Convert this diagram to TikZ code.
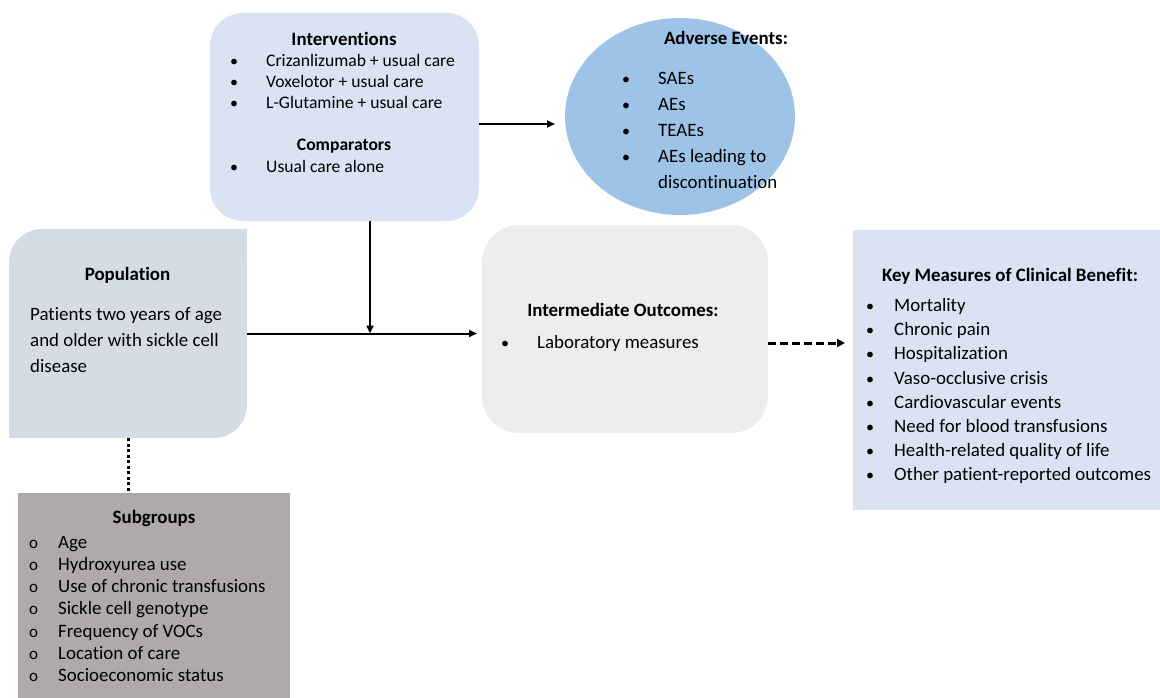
\documentclass[tikz,border=0pt]{standalone}
\usepackage{fontspec}
\setmainfont{Carlito}[Ligatures=NoCommon]
\usetikzlibrary{arrows.meta,shapes.geometric}
\definecolor{intc}{HTML}{DAE3F3}
\definecolor{aec}{HTML}{9DC3E6}
\definecolor{popc}{HTML}{D6DCE5}
\definecolor{imc}{HTML}{EDEDED}
\definecolor{keyc}{HTML}{DAE3F3}
\definecolor{subc}{HTML}{AEAAAA}
\newcommand\fsz{\fontsize{18.9}{22}\selectfont}
\newcommand\fszs{\fontsize{17.6}{21}\selectfont}
\tikzset{
  box/.style={inner sep=0pt, outer sep=0pt, draw=none},
  txt/.style={anchor=base west, inner sep=0pt, font=\fsz},
  stxt/.style={anchor=base west, inner sep=0pt, font=\fszs},
  ttl/.style={anchor=base, inner sep=0pt, font=\fsz\bfseries},
  sttl/.style={anchor=base, inner sep=0pt, font=\fszs\bfseries},
  circ/.style={anchor=base west, inner sep=0pt, font=\fontsize{17}{20}\selectfont},
  bul/.style={anchor=base west, inner sep=0pt, font=\fontsize{16}{19}\selectfont},
  conn/.style={line width=2pt, -{Triangle[length=8pt,width=7pt]}},
  dashconn/.style={line width=3pt, dash pattern=on 8pt off 4pt, -{Triangle[length=8pt,width=8pt]}},
  dotconn/.style={line width=3pt, dash pattern=on 3pt off 2.5pt}
}
\begin{document}
\begin{tikzpicture}[x=1pt,y=-1pt]
\useasboundingbox (0,0) rectangle (1160,698);
% boxes
\node[box, fill=intc, rounded corners=33pt, minimum width=269pt, minimum height=208pt] (int) at (344.5,117) {};
\node[box, fill=aec, ellipse, minimum width=230pt, minimum height=197pt] (ae) at (680,116.5) {};
\node[box, fill=popc, rounded corners=33pt, minimum width=238pt, minimum height=209pt] (pop) at (128,333.5) {};
\fill[popc] (212,229) rectangle (247,264);
\fill[popc] (9,403) rectangle (44,438);
\node[box, fill=imc, rounded corners=37pt, minimum width=286pt, minimum height=208pt] (im) at (625,329) {};
\node[box, fill=keyc, minimum width=309pt, minimum height=280pt] (key) at (1007.5,370) {};
\node[box, fill=subc, minimum width=272pt, minimum height=207pt] (sub) at (154,596.5) {};
% connectors
\coordinate (ae-in) at (555,124);
\draw[conn] (int.east |- ae-in) -- (ae-in);
\coordinate (join) at (370,333.5);
\draw[conn] (pop.east) -- ([xshift=-5pt]pop.east -| im.west);
\draw[conn] (int.south -| join) -- (join);
\coordinate (key-in) at (845,343);
\draw[dashconn] (im.east |- key-in) -- (key-in);
\draw[dotconn] (pop.south) -- (pop.south |- sub.north);
% Interventions text
\node[ttl] (t-int) at (344,46) {Interventions};
\foreach \y/\s [count=\i] in {67/Crizanlizumab + usual care, 88/Voxelotor + usual care, 109/L-Glutamine + usual care}{
  \node[bul] (ib\i) at (230,\y) {•};
  \node[stxt] (it\i) at (266,\y) {\s};
}
\node[sttl] (t-comp) at (344,151) {Comparators};
\node[bul] (cb1) at (230,172) {•};
\node[stxt] (ct1) at (266,172) {Usual care alone};
% Adverse events text
\node[ttl] (t-ae) at (726,45) {Adverse Events:};
\foreach \y/\s [count=\i] in {85/SAEs, 111/AEs, 137/TEAEs, 163/AEs leading to}{
  \node[bul] (ab\i) at (622,\y) {•};
  \node[txt] (at\i) at (658,\y) {\s};
}
\node[txt] (at5) at (658,189) {discontinuation};
% Population text
\node[ttl] (t-pop) at (127.5,280) {Population};
\node[txt] (pt1) at (30,320) {Patients two years of age};
\node[txt] (pt2) at (30,346) {and older with sickle cell};
\node[txt] (pt3) at (30,372) {disease};
% Intermediate text
\node[ttl] (t-im) at (623,316) {Intermediate Outcomes:};
\node[bul] (mb1) at (501,348) {•};
\node[txt] (mt1) at (537,348) {Laboratory measures};
% Key measures text
\node[ttl] (t-key) at (1010,281) {Key Measures of Clinical Benefit:};
\foreach \s [count=\i] in {Mortality, Chronic pain, Hospitalization, Vaso-occlusive crisis, Cardiovascular events, Need for blood transfusions, Health-related quality of life, Other patient-reported outcomes}{
  \node[bul] (kb\i) at (866,{311.5+(\i-1)*24.2}) {•};
  \node[txt] (kt\i) at (894,{311.5+(\i-1)*24.2}) {\s};
}
% Subgroups text
\node[ttl] (t-sub) at (154,523) {Subgroups};
\foreach \s [count=\i] in {Age, Hydroxyurea use, Use of chronic transfusions, Sickle cell genotype, Frequency of VOCs, Location of care, Socioeconomic status}{
  \node[circ] (sb\i) at (29,{548+(\i-1)*22.3}) {o};
  \node[txt] (st\i) at (58,{548+(\i-1)*22.3}) {\s};
}
\end{tikzpicture}
\end{document}
